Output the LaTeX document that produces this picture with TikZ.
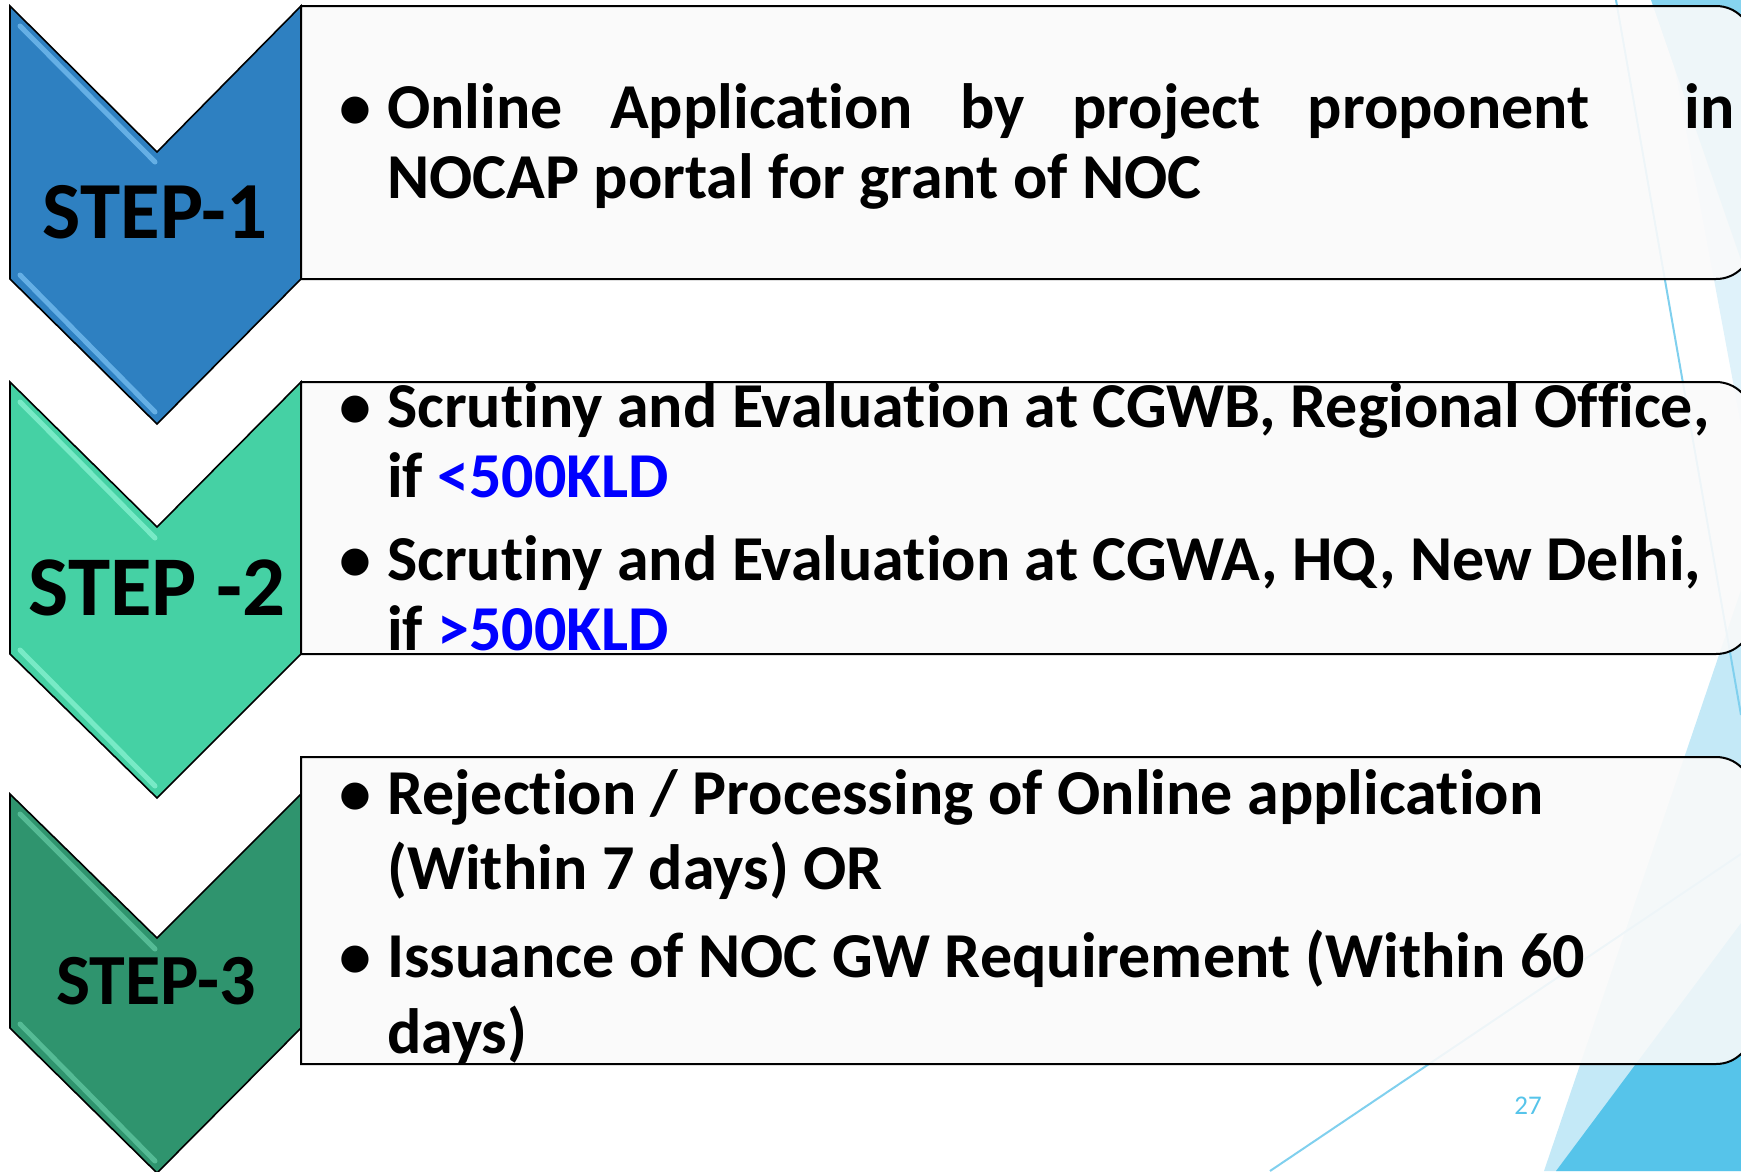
\documentclass[tikz,border=0pt]{standalone}
\usepackage{fontspec}
\setmainfont{Carlito}[Ligatures=NoCommon]
\usepackage{xcolor}
\usetikzlibrary{positioning}

\definecolor{stepblue}{HTML}{2E80C1}
\definecolor{bevelblue}{HTML}{78C0F2}
\definecolor{stepaqua}{HTML}{45D1A4}
\definecolor{bevelaqua}{HTML}{8AF3D2}
\definecolor{stepgreen}{HTML}{2F946E}
\definecolor{bevelgreen}{HTML}{62C9A3}
\definecolor{boxfill}{HTML}{FAFAFA}
\definecolor{kldblue}{HTML}{0000FF}
\definecolor{facetpale}{HTML}{DFF2FA}
\definecolor{facetmid}{HTML}{86D4F0}
\definecolor{facetlight}{HTML}{C4E9F7}
\definecolor{facetdark}{HTML}{56C4EA}
\definecolor{facetline}{HTML}{80D0EE}

\begin{document}
\begin{tikzpicture}[
		x=1pt, y=-1pt,
		chevron/.style={draw=black, line width=1.6pt, line join=miter},
		bevel/.style={line width=5pt, line cap=round, opacity=0.75},
		stepbox/.style={draw=black, line width=2pt, fill=boxfill, fill opacity=0.9},
		steplabel/.style={anchor=base, inner sep=0pt, font=\bfseries\fontsize{#1}{#1}\selectfont},
		itemtext/.style={anchor=base west, inner sep=0pt, text width=1450pt, align=flush left,
			font=\bfseries\fontsize{64}{70}\selectfont},
		dot/.style={anchor=base, inner sep=0pt, font=\bfseries\fontsize{64}{70}\selectfont},
		facetline/.style={draw=facetline, line width=2pt}
		]
		\useasboundingbox (0,0) rectangle (1741,1171);
		\clip (0,0) rectangle (1741,1171);

		% --- Décor (à droite) ---
		\fill[facetpale] (1662,0) -- (1741,0) -- (1741,425) -- cycle;
		\fill[facetmid] (1651,0) -- (1741,0) -- (1741,260) -- cycle;
		\fill[facetlight] (1544,1171) -- (1741,590) -- (1741,1171) -- cycle;
		\fill[facetdark] (1556,1171) -- (1741,923) -- (1741,1171) -- cycle;
		\draw[facetline] (1616,0) -- (1741,715);
		\draw[facetline] (1270,1171) -- (1741,854);

		% --- Cadres ---
		\draw[stepbox] (301,279) -- (301,6) -- (1716,6) .. controls (1736,6) and (1752,22) .. (1752,42)
			-- (1752,243) .. controls (1752,263) and (1736,279) .. (1716,279) -- cycle;
		\draw[stepbox] (301,654) -- (301,382) -- (1716,382) .. controls (1736,382) and (1752,398) .. (1752,418)
			-- (1752,618) .. controls (1752,638) and (1736,654) .. (1716,654) -- cycle;
		\draw[stepbox] (301,1064) -- (301,757) -- (1716,757) .. controls (1736,757) and (1752,773) .. (1752,793)
			-- (1752,1028) .. controls (1752,1048) and (1736,1064) .. (1716,1064) -- cycle;

		% --- Chevrons ---
		\draw[chevron, fill=stepblue] (10,6) -- (157,152) -- (301,6) -- (301,279) -- (157,424) -- (10,279) -- cycle;
		\draw[bevel, draw=bevelblue] (20,26) -- (155,162);
		\draw[bevel, draw=bevelblue] (20,275) -- (155,412);

		\draw[chevron, fill=stepaqua] (10,382) -- (157,527) -- (301,382) -- (301,654) -- (157,798) -- (10,654) -- cycle;
		\draw[bevel, draw=bevelaqua] (20,402) -- (155,538);
		\draw[bevel, draw=bevelaqua] (20,650) -- (155,786);

		\draw[chevron, fill=stepgreen] (10,794) -- (157,938) -- (301,794) -- (301,1028) -- (157,1173) -- (10,1028) -- cycle;
		\draw[bevel, draw=bevelgreen] (20,814) -- (155,949);
		\draw[bevel, draw=bevelgreen] (20,1024) -- (155,1161);

		\node[steplabel=81] (s1) at (155,238) {STEP-1};
		\node[steplabel=85] (s2) at (157,615) {STEP -2};
		\node[steplabel=72] (s3) at (156,1004) {STEP-3};

		% --- Textes ---
		\node[dot] (d1) at (355,128) {\textbullet};
		\node[itemtext, text width=1347pt, align=justify] (t1) at (387,128)
			{Online Application by project proponent\ \ in\linebreak NOCAP portal for grant of NOC};

		\node[dot] (d2) at (355,427) {\textbullet};
		\node[itemtext] (t2) at (387,427)
			{Scrutiny and Evaluation at CGWB, Regional Office,\\ if \textcolor{kldblue}{<500KLD}};
		\node[dot] (d3) at (355,580) {\textbullet};
		\node[itemtext] (t3) at (387,580)
			{Scrutiny and Evaluation at CGWA, HQ, New Delhi,\\ if \textcolor{kldblue}{>500KLD}};

		\node[dot] (d4) at (355,814) {\textbullet};
		\node[itemtext, font=\bfseries\fontsize{64}{75}\selectfont] (t4) at (387,814)
			{Rejection / Processing of Online application\\ (Within 7 days) OR};
		\node[dot] (d5) at (355,977) {\textbullet};
		\node[itemtext, font=\bfseries\fontsize{64}{76}\selectfont] (t5) at (387,977)
			{Issuance of NOC GW Requirement (Within 60\\ days)};

		\node[anchor=base, inner sep=0pt, text=facetdark, font=\fontsize{27}{27}\selectfont] (num) at (1528,1114) {27};

	\end{tikzpicture}
\end{document}
